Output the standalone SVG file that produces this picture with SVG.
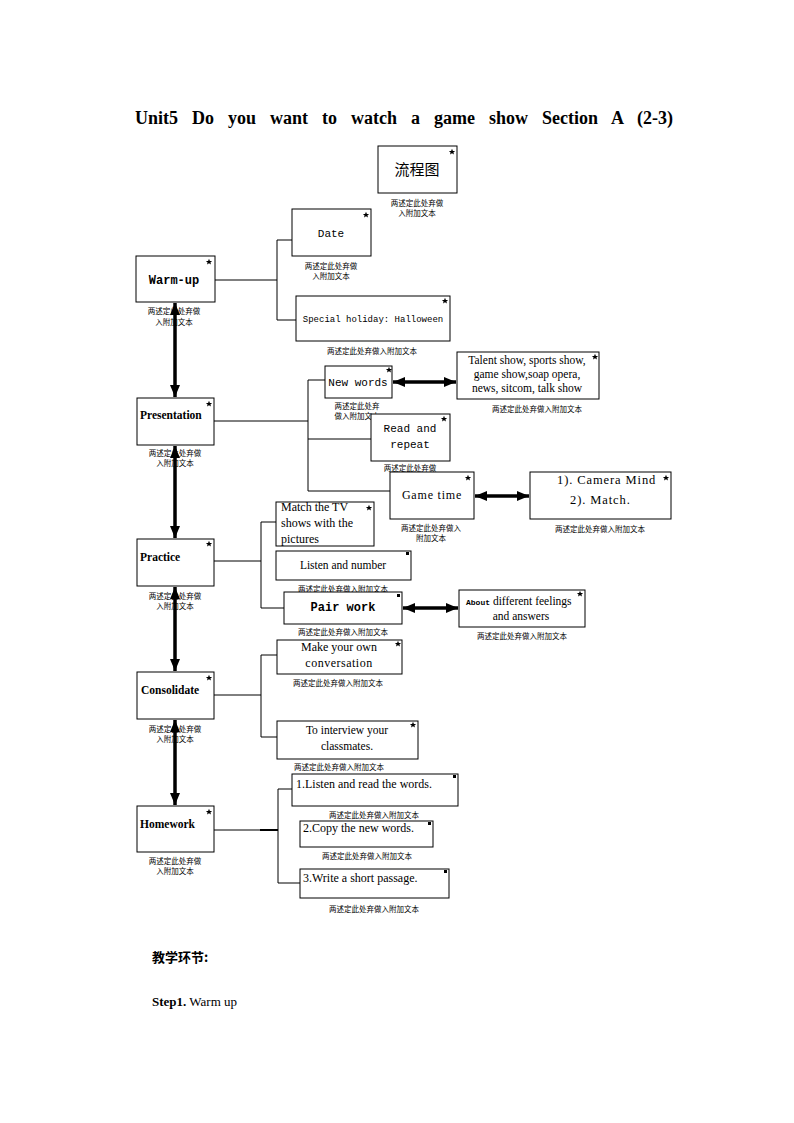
<svg xmlns="http://www.w3.org/2000/svg" width="794" height="1123" viewBox="0 0 794 1123">
<defs>
<style>
.box{fill:#fff;stroke:#000;stroke-width:1}
.t{font-family:"Liberation Serif","Noto Sans CJK SC",serif;font-size:11.5px;fill:#000}
.m{font-family:"Liberation Mono",monospace;font-size:11px;fill:#000}
.b{font-family:"Liberation Serif",serif;font-size:11.5px;font-weight:bold;fill:#000}
.cap{font-family:"Noto Sans CJK SC",sans-serif;font-size:7.5px;fill:#000;text-anchor:middle}
.c{text-anchor:middle}
.ln{fill:none;stroke:#000;stroke-width:1}
.ar{fill:none;stroke:#000;stroke-width:3.5;marker-start:url(#ah);marker-end:url(#ah)}
</style>
<marker id="ah" viewBox="0 0 12 10" refX="12" refY="5" markerWidth="12" markerHeight="10" markerUnits="userSpaceOnUse" orient="auto-start-reverse">
<path d="M0,0 L12,5 L0,10 z" fill="#000"/>
</marker>
<path id="star" d="M0,-3.2 L0.9,-1 L3.1,-1 L1.4,0.4 L2,2.6 L0,1.3 L-2,2.6 L-1.4,0.4 L-3.1,-1 L-0.9,-1 z" fill="#000"/>
</defs>
<rect width="794" height="1123" fill="#fff"/>
<text x="135" y="124" style="font-family:'Liberation Serif',serif;font-size:18px;font-weight:bold;word-spacing:9.5px">Unit5 Do you want to watch a game show Section A (2-3)</text>

<g id="flow">
<rect class="box" x="378" y="146" width="79" height="47"/>
<use href="#star" x="452" y="152"/>
<text class="t c" x="417" y="175" style="font-family:'Noto Sans CJK SC',sans-serif;font-size:15px">流程图</text>
<text class="cap" x="417" y="206">两述定此处弃做</text>
<text class="cap" x="417" y="216">入附加文本</text>
</g>

<g id="date">
<rect class="box" x="292" y="209" width="79" height="47"/>
<use href="#star" x="366" y="215"/>
<text class="m c" x="331" y="237">Date</text>
<text class="cap" x="331" y="269">两述定此处弃做</text>
<text class="cap" x="331" y="279">入附加文本</text>
</g>

<g id="warmup">
<rect class="box" x="136" y="256" width="79" height="46"/>
<use href="#star" x="209" y="262"/>
<text class="m c" x="174" y="284" style="font-weight:bold;font-size:12px">Warm-up</text>
<text class="cap" x="174" y="314">两述定此处弃做</text>
<text class="cap" x="174" y="325">入附加文本</text>
</g>

<g id="holiday">
<rect class="box" x="296" y="296" width="154" height="45"/>
<use href="#star" x="445" y="301"/>
<text class="m c" x="373" y="322" style="font-size:9px">Special holiday: Halloween</text>
<text class="cap" x="372" y="354">两述定此处弃做入附加文本</text>
</g>

<g id="presentation">
<rect class="box" x="137" y="398" width="77" height="47"/>
<use href="#star" x="209" y="404"/>
<text class="b" x="140" y="419">Presentation</text>
<text class="cap" x="175" y="456">两述定此处弃做</text>
<text class="cap" x="175" y="466">入附加文本</text>
</g>

<g id="newwords">
<rect class="box" x="325" y="366" width="67" height="32"/>
<use href="#star" x="389" y="370"/>
<text class="m c" x="358" y="386">New words</text>
<text class="cap" x="357" y="409">两述定此处弃</text>
<text class="cap" x="357" y="419">做入附加文本</text>
</g>

<g id="talent">
<rect class="box" x="457" y="352" width="142" height="47"/>
<use href="#star" x="595" y="357"/>
<text class="t c" x="527" y="364">Talent show, sports show,</text>
<text class="t c" x="527" y="378">game show,soap opera,</text>
<text class="t c" x="527" y="392">news, sitcom, talk show</text>
<text class="cap" x="537" y="412">两述定此处弃做入附加文本</text>
</g>

<g id="read">
<rect class="box" x="371" y="414" width="79" height="47"/>
<use href="#star" x="444" y="419"/>
<text class="m c" x="410" y="432">Read and</text>
<text class="m c" x="410" y="448">repeat</text>
<text class="cap" x="410" y="471">两述定此处弃做</text>
</g>

<g id="gametime">
<rect class="box" x="390" y="472" width="84" height="47"/>
<use href="#star" x="468" y="478"/>
<text class="t c" x="432" y="499" style="font-size:12px;letter-spacing:0.8px">Game time</text>
<text class="cap" x="431" y="531">两述定此处弃做入</text>
<text class="cap" x="431" y="541">附加文本</text>
</g>

<g id="camera">
<rect class="box" x="530" y="472" width="141" height="47"/>
<use href="#star" x="666" y="478"/>
<text class="t" x="557" y="484" style="font-size:12.5px;letter-spacing:0.9px">1). Camera Mind</text>
<text class="t" x="570" y="504" style="font-size:12.5px;letter-spacing:0.9px">2). Match.</text>
<text class="cap" x="600" y="532">两述定此处弃做入附加文本</text>
</g>

<g id="match">
<rect class="box" x="276" y="502" width="98" height="44"/>
<use href="#star" x="369" y="508"/>
<text class="t" x="281" y="511" style="font-size:12px">Match the TV</text>
<text class="t" x="281" y="527" style="font-size:12px">shows with the</text>
<text class="t" x="281" y="543" style="font-size:12px">pictures</text>
</g>

<g id="practice">
<rect class="box" x="137" y="539" width="77" height="47"/>
<use href="#star" x="209" y="544"/>
<text class="b" x="140" y="561">Practice</text>
<text class="cap" x="175" y="599">两述定此处弃做</text>
<text class="cap" x="175" y="609">入附加文本</text>
</g>

<g id="listen">
<rect class="box" x="276" y="551" width="135" height="29"/>
<rect x="406" y="552" width="3" height="3" fill="#000"/>
<text class="t c" x="343" y="569">Listen and number</text>
<text class="cap" x="343" y="592">两述定此处弃做入附加文本</text>
</g>

<g id="pairwork">
<rect class="box" x="284" y="592" width="118" height="32"/>
<rect x="397" y="594" width="3" height="3" fill="#000"/>
<text class="m c" x="343" y="611" style="font-weight:bold;font-size:12px">Pair work</text>
<text class="cap" x="343" y="635">两述定此处弃做入附加文本</text>
</g>

<g id="about">
<rect class="box" x="459" y="590" width="126" height="37"/>
<use href="#star" x="580" y="594"/>
<text class="t" x="466" y="605"><tspan class="m" style="font-weight:bold;font-size:8px">About</tspan> different feelings</text>
<text class="t c" x="521" y="620">and answers</text>
<text class="cap" x="522" y="639">两述定此处弃做入附加文本</text>
</g>

<g id="make">
<rect class="box" x="277" y="640" width="125" height="34"/>
<use href="#star" x="398" y="644"/>
<text class="t c" x="339" y="651" style="font-size:12px">Make your own</text>
<text class="t c" x="339" y="667" style="font-size:12px;letter-spacing:0.5px">conversation</text>
<text class="cap" x="338" y="686">两述定此处弃做入附加文本</text>
</g>

<g id="consolidate">
<rect class="box" x="137" y="672" width="77" height="47"/>
<use href="#star" x="209" y="678"/>
<text class="b" x="141" y="694">Consolidate</text>
<text class="cap" x="175" y="732">两述定此处弃做</text>
<text class="cap" x="175" y="742">入附加文本</text>
</g>

<g id="interview">
<rect class="box" x="277" y="721" width="141" height="38"/>
<use href="#star" x="413" y="725"/>
<text class="t c" x="347" y="734">To interview your</text>
<text class="t c" x="347" y="750">classmates.</text>
<text class="cap" x="339" y="770">两述定此处弃做入附加文本</text>
</g>

<g id="hw1">
<rect class="box" x="292" y="774" width="166" height="32"/>
<rect x="453" y="775" width="3" height="3" fill="#000"/>
<text class="t" x="296" y="788" style="font-size:12px">1.Listen and read the words.</text>
<text class="cap" x="374" y="818">两述定此处弃做入附加文本</text>
</g>

<g id="homework">
<rect class="box" x="137" y="806" width="77" height="46"/>
<use href="#star" x="209" y="812"/>
<text class="b" x="140" y="828">Homework</text>
<text class="cap" x="175" y="864">两述定此处弃做</text>
<text class="cap" x="175" y="874">入附加文本</text>
</g>

<g id="hw2">
<rect class="box" x="300" y="821" width="133" height="26"/>
<rect x="428" y="822" width="3" height="3" fill="#000"/>
<text class="t" x="303" y="832" style="font-size:12px">2.Copy the new words.</text>
<text class="cap" x="367" y="859">两述定此处弃做入附加文本</text>
</g>

<g id="hw3">
<rect class="box" x="300" y="869" width="149" height="29"/>
<rect x="444" y="870" width="3" height="3" fill="#000"/>
<text class="t" x="303" y="882" style="font-size:12px">3.Write a short passage.</text>
<text class="cap" x="374" y="912">两述定此处弃做入附加文本</text>
</g>

<g id="connectors">
<polyline class="ln" points="215,280 277,280"/>
<polyline class="ln" points="292,240 277,240 277,320 296,320"/>
<polyline class="ln" points="214,421 308,421"/>
<polyline class="ln" points="325,380 308,380 308,491 390,491"/>
<polyline class="ln" points="308,439 371,439"/>
<polyline class="ln" points="214,561 261,561"/>
<polyline class="ln" points="276,522 261,522 261,608 284,608"/>
<polyline class="ln" points="214,695 261,695"/>
<polyline class="ln" points="277,655 261,655 261,737 277,737"/>
<polyline class="ln" points="214,830 260,830"/>
<line x1="260" y1="830" x2="278" y2="830" stroke="#000" stroke-width="2"/>
<polyline class="ln" points="292,789 278,789 278,883 300,883"/>
<line class="ar" x1="175" y1="303" x2="175" y2="397"/>
<line class="ar" x1="175" y1="446" x2="175" y2="538"/>
<line class="ar" x1="175" y1="587" x2="175" y2="671"/>
<line class="ar" x1="175" y1="720" x2="175" y2="805"/>
<line class="ar" x1="393" y1="382" x2="456" y2="382"/>
<line class="ar" x1="475" y1="496" x2="529" y2="496"/>
<line class="ar" x1="403" y1="608" x2="458" y2="608"/>
</g>

<text x="152" y="962" style="font-family:'Noto Sans CJK SC',sans-serif;font-size:13px;font-weight:bold">教学环节:</text>
<text x="152" y="1006" style="font-family:'Liberation Serif',serif;font-size:13px"><tspan font-weight="bold">Step1.</tspan> Warm up</text>
</svg>
